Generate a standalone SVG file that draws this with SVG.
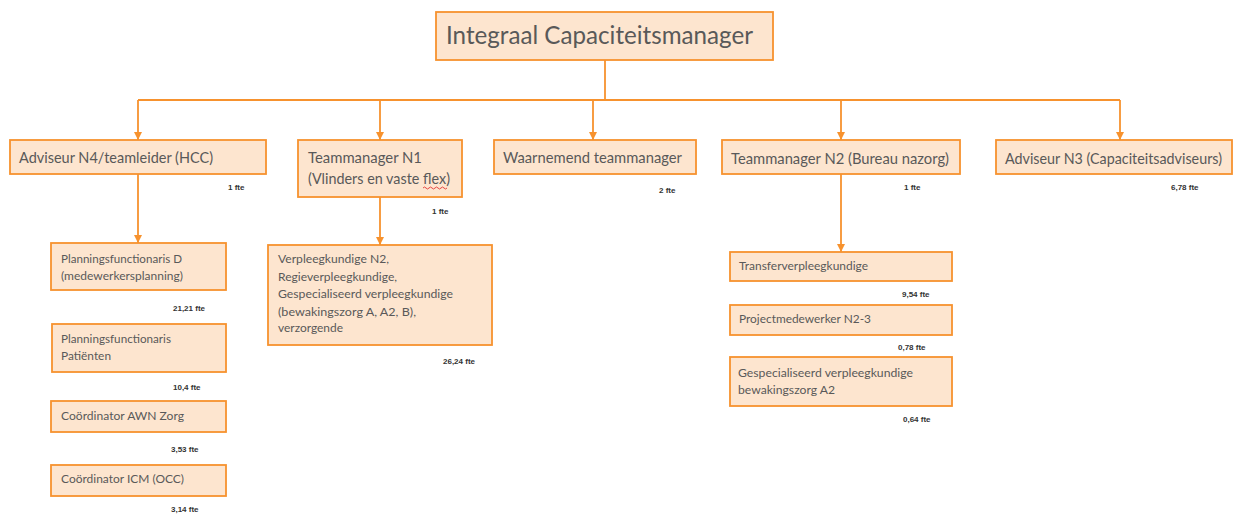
<svg xmlns="http://www.w3.org/2000/svg" width="1237" height="515" viewBox="0 0 1237 515">
<style>
.box{fill:#fde5cf;stroke:#f7922e;stroke-width:1.8}
.t{font-family:Lato,"Open Sans","Liberation Sans",sans-serif;fill:#595959}
.t1{font-size:25px}
.t2{font-size:15px}
.t3{font-size:11.5px}
.f{font-family:"Liberation Sans",Arial,sans-serif;font-size:8px;fill:#333;font-weight:bold}
.c{fill:none;stroke:#f7922e;stroke-width:1.8}
</style>
<defs>
<marker id="ah" viewBox="0 0 10 10" refX="10" refY="5" markerWidth="4.5" markerHeight="4.5" orient="auto" markerUnits="strokeWidth">
<path d="M0,0 L10,5 L0,10 z" fill="#f7922e"/>
</marker>
</defs>
<rect width="1237" height="515" fill="#ffffff"/>
<g id="connectors">
<path class="c" d="M605,60 V100"/>
<path class="c" d="M138,100 H1120"/>
<path class="c" d="M138,100 V140" marker-end="url(#ah)"/>
<path class="c" d="M380,100 V140" marker-end="url(#ah)"/>
<path class="c" d="M593,100 V140" marker-end="url(#ah)"/>
<path class="c" d="M841,100 V140" marker-end="url(#ah)"/>
<path class="c" d="M1120,100 V140" marker-end="url(#ah)"/>
<path class="c" d="M138,174 V243" marker-end="url(#ah)"/>
<path class="c" d="M380,197 V245" marker-end="url(#ah)"/>
<path class="c" d="M841,174 V252" marker-end="url(#ah)"/>
</g>
<g id="top">
<rect class="box" x="436" y="12" width="337" height="48"/>
<text class="t t1" x="446" y="44" textLength="307" lengthAdjust="spacingAndGlyphs">Integraal Capaciteitsmanager</text>
</g>
<g id="adviseur-n4">
<rect class="box" x="10" y="140" width="256" height="34"/>
<text class="t t2" x="19" y="163" textLength="194" lengthAdjust="spacingAndGlyphs">Adviseur N4/teamleider (HCC)</text>
<text class="f" x="228" y="190">1 fte</text>
</g>
<g id="teammanager-n1">
<rect class="box" x="298" y="140" width="164" height="57"/>
<text class="t t2" x="308" y="163" textLength="114" lengthAdjust="spacingAndGlyphs">Teammanager N1</text>
<text class="t t2" x="308" y="184" textLength="142" lengthAdjust="spacingAndGlyphs">(Vlinders en vaste flex)</text>
<path d="M423,188 q1.5,-2 3,0 t3,0 t3,0 t3,0 t3,0 t3,0 t3,0 t3,0" fill="none" stroke="#e02020" stroke-width="0.8"/>
<text class="f" x="432" y="214">1 fte</text>
</g>
<g id="waarnemend">
<rect class="box" x="494" y="140" width="202" height="34"/>
<text class="t t2" x="503" y="163" textLength="179" lengthAdjust="spacingAndGlyphs">Waarnemend teammanager</text>
<text class="f" x="659" y="193">2 fte</text>
</g>
<g id="teammanager-n2">
<rect class="box" x="722" y="140" width="238" height="34"/>
<text class="t t2" x="731" y="164" textLength="218" lengthAdjust="spacingAndGlyphs">Teammanager N2 (Bureau nazorg)</text>
<text class="f" x="904" y="190">1 fte</text>
</g>
<g id="adviseur-n3">
<rect class="box" x="996" y="140" width="236" height="34"/>
<text class="t t2" x="1005" y="164" textLength="217" lengthAdjust="spacingAndGlyphs">Adviseur N3 (Capaciteitsadviseurs)</text>
<text class="f" x="1171" y="190">6,78 fte</text>
</g>
<g id="planningsfunctionaris-d">
<rect class="box" x="51" y="243" width="175" height="47"/>
<text class="t t3" x="61" y="263" textLength="121" lengthAdjust="spacingAndGlyphs">Planningsfunctionaris D</text>
<text class="t t3" x="61" y="280" textLength="122" lengthAdjust="spacingAndGlyphs">(medewerkersplanning)</text>
<text class="f" x="173" y="311">21,21 fte</text>
</g>
<g id="planningsfunctionaris-patienten">
<rect class="box" x="52" y="324" width="174" height="48"/>
<text class="t t3" x="61" y="343" textLength="110" lengthAdjust="spacingAndGlyphs">Planningsfunctionaris</text>
<text class="t t3" x="61" y="360" textLength="50" lengthAdjust="spacingAndGlyphs">Patiënten</text>
<text class="f" x="173" y="390">10,4 fte</text>
</g>
<g id="coordinator-awn">
<rect class="box" x="51" y="401" width="175" height="31"/>
<text class="t t3" x="61" y="420" textLength="123" lengthAdjust="spacingAndGlyphs">Coördinator AWN Zorg</text>
<text class="f" x="171" y="452">3,53 fte</text>
</g>
<g id="coordinator-icm">
<rect class="box" x="51" y="465" width="175" height="31"/>
<text class="t t3" x="61" y="483" textLength="123" lengthAdjust="spacingAndGlyphs">Coördinator ICM (OCC)</text>
<text class="f" x="171" y="512">3,14 fte</text>
</g>
<g id="verpleegkundige">
<rect class="box" x="268" y="245" width="224" height="100"/>
<text class="t t3" x="278" y="263" textLength="111" lengthAdjust="spacingAndGlyphs">Verpleegkundige N2,</text>
<text class="t t3" x="278" y="281" textLength="119" lengthAdjust="spacingAndGlyphs">Regieverpleegkundige,</text>
<text class="t t3" x="278" y="298" textLength="175" lengthAdjust="spacingAndGlyphs">Gespecialiseerd verpleegkundige</text>
<text class="t t3" x="278" y="316" textLength="138" lengthAdjust="spacingAndGlyphs">(bewakingszorg A, A2, B),</text>
<text class="t t3" x="278" y="332" textLength="65" lengthAdjust="spacingAndGlyphs">verzorgende</text>
<text class="f" x="443" y="364">26,24 fte</text>
</g>
<g id="transferverpleegkundige">
<rect class="box" x="730" y="252" width="222" height="29"/>
<text class="t t3" x="739" y="270" textLength="129" lengthAdjust="spacingAndGlyphs">Transferverpleegkundige</text>
<text class="f" x="902" y="297">9,54 fte</text>
</g>
<g id="projectmedewerker">
<rect class="box" x="730" y="305" width="222" height="30"/>
<text class="t t3" x="739" y="323" textLength="132" lengthAdjust="spacingAndGlyphs">Projectmedewerker N2-3</text>
<text class="f" x="898" y="350">0,78 fte</text>
</g>
<g id="gespecialiseerd">
<rect class="box" x="730" y="357" width="222" height="49"/>
<text class="t t3" x="738" y="377" textLength="175" lengthAdjust="spacingAndGlyphs">Gespecialiseerd verpleegkundige</text>
<text class="t t3" x="738" y="394" textLength="97" lengthAdjust="spacingAndGlyphs">bewakingszorg A2</text>
<text class="f" x="903" y="422">0,64 fte</text>
</g>
</svg>
